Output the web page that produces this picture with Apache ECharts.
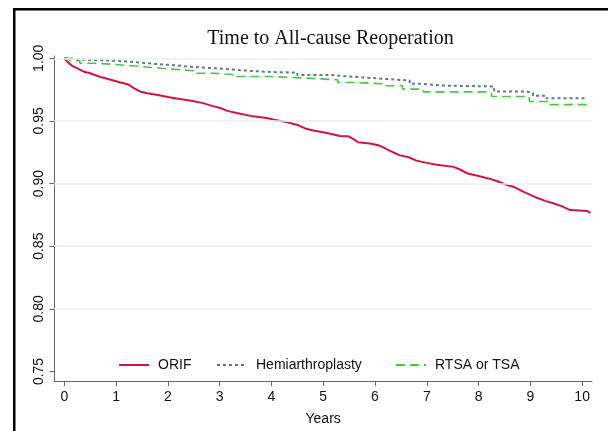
<!DOCTYPE html>
<html>
<head>
<meta charset="utf-8">
<script src="https://cdn.jsdelivr.net/npm/echarts@6/dist/echarts.min.js"></script>
<style>html,body{margin:0;padding:0;background:#fff}#c{width:608px;height:431px}</style>
</head>
<body>
<div id="c"></div>
<script>
// Kaplan-Meier estimates [years, survival]
var orifData = [[0,1.0],[0.05,0.9975],[0.15,0.994],[0.25,0.992],[0.4,0.989],[0.5,0.988],[0.7,0.985],[0.88,0.983],[1.05,0.981],[1.24,0.979],[1.35,0.976],[1.46,0.9735],[1.6,0.972],[1.78,0.9708],[2.0,0.969],[2.23,0.9674],[2.45,0.966],[2.68,0.9642],[2.85,0.962],[3.01,0.9603],[3.15,0.958],[3.33,0.9563],[3.6,0.954],[3.91,0.9523],[4.05,0.951],[4.23,0.9496],[4.49,0.947],[4.65,0.944],[4.81,0.9424],[5.0,0.941],[5.14,0.9398],[5.32,0.938],[5.48,0.9378],[5.6,0.935],[5.67,0.933],[5.9,0.932],[6.07,0.9305],[6.15,0.929],[6.27,0.9265],[6.4,0.924],[6.47,0.9227],[6.65,0.921],[6.8,0.9183],[7.0,0.9165],[7.19,0.915],[7.52,0.9133],[7.65,0.911],[7.79,0.908],[8.0,0.906],[8.19,0.9041],[8.35,0.902],[8.52,0.8992],[8.7,0.897],[8.85,0.8938],[9.0,0.891],[9.11,0.8889],[9.3,0.886],[9.44,0.8843],[9.6,0.882],[9.77,0.8788],[10.1,0.878],[10.16,0.8766]];
var hemiData = [[0,1.0],[0.1,0.999],[0.26,0.9985],[0.6,0.998],[1.0,0.9968],[1.4,0.9955],[1.75,0.9945],[2.1,0.993],[2.5,0.992],[2.9,0.991],[3.25,0.9899],[3.6,0.989],[3.99,0.9886],[4.5,0.9867],[5.14,0.9862],[5.28,0.985],[5.67,0.9835],[6.2,0.9822],[6.67,0.9796],[6.93,0.9782],[7.3,0.9775],[8.25,0.9774],[8.3,0.9735],[8.91,0.9722],[9.05,0.970],[9.31,0.968],[10.1,0.9676]];
var rtsaData = [[0,1.0],[0.1,0.998],[0.3,0.996],[0.6,0.995],[1.0,0.994],[1.3,0.993],[1.59,0.9915],[2.0,0.990],[2.5,0.988],[2.9,0.987],[3.25,0.9854],[4.0,0.984],[4.74,0.9828],[5.28,0.9806],[5.67,0.9796],[6.13,0.978],[6.53,0.9754],[6.93,0.9732],[8.19,0.9722],[8.25,0.9695],[8.98,0.9655],[9.38,0.963],[10.14,0.9623]];
var seriesNames = ['ORIF','Hemiarthroplasty','RTSA or TSA'];
var xTicks = [0,1,2,3,4,5,6,7,8,9,10];
var yTicks = [0.75,0.80,0.85,0.90,0.95,1.00];
var gridValues = [0.80,0.85,0.90,0.95,1.00];
var titleText = 'Time to All-cause Reoperation';
var xAxisName = 'Years';

var chart = echarts.init(document.getElementById('c'), null, {renderer:'canvas'});
var sans = 'Liberation Sans, Arial, Helvetica, sans-serif';
var axisCol = '#666';
var legendBase = {
  top: 358, itemWidth: 30, itemHeight: 12, itemGap: 0, padding: 0,
  itemStyle: {opacity: 0},
  textStyle: {fontFamily: sans, fontSize: 14, color: '#111', padding: [0,0,0,4]}
};
chart.setOption({
  animation: false,
  backgroundColor: '#fff',
  title: {text: titleText, left: 325.5, textAlign: 'center', top: 24,
    textStyle: {fontFamily: 'Liberation Serif, Times New Roman, serif', fontSize: 20, fontWeight: 'normal', color: '#111'}},
  graphic: [
    {type: 'rect', shape: {x: 13, y: 8, width: 595, height: 2.5}, style: {fill: '#000'}},
    {type: 'rect', shape: {x: 13, y: 8, width: 2.5, height: 423}, style: {fill: '#000'}}
  ],
  legend: [
    Object.assign({left: 118, data: [seriesNames[0]]}, legendBase),
    Object.assign({left: 216, data: [seriesNames[1]]}, legendBase),
    Object.assign({left: 395, data: [seriesNames[2]]}, legendBase)
  ],
  grid: {left: 54.3, right: 16, top: 56, bottom: 48.7, containLabel: false},
  xAxis: {
    type: 'value', min: -0.193, max: 10.19,
    name: xAxisName, nameLocation: 'middle', nameGap: 31,
    nameTextStyle: {fontFamily: sans, fontSize: 14, color: '#111'},
    axisLine: {show: true, onZero: false, lineStyle: {color: axisCol, width: 1}},
    axisTick: {show: true, length: 5, customValues: xTicks, lineStyle: {color: axisCol}},
    axisLabel: {customValues: xTicks, fontFamily: sans, fontSize: 14, color: '#111', margin: 9},
    splitLine: {show: false}
  },
  yAxis: {
    type: 'value', min: 0.7424, max: 1.0018,
    axisLine: {show: true, onZero: false, lineStyle: {color: axisCol, width: 1}},
    axisTick: {show: true, length: 5, customValues: yTicks, lineStyle: {color: axisCol}},
    axisLabel: {customValues: yTicks, rotate: 90, fontFamily: sans, fontSize: 14, color: '#111', margin: 8,
      formatter: function(v){ return v.toFixed(2); }},
    splitLine: {show: false}
  },
  series: [
    {type: 'line', name: '_grid', data: [], z: 1, silent: true,
      markLine: {silent: true, symbol: 'none', label: {show: false},
        lineStyle: {color: '#e9f1f1', width: 1.5, type: 'solid'},
        data: gridValues.map(function(v){ return {yAxis: v}; })}},
    {type: 'line', name: seriesNames[0], data: orifData, symbol: 'none', z: 3,
      lineStyle: {color: '#cf1541', width: 2}, itemStyle: {color: '#cf1541'}},
    {type: 'line', name: seriesNames[1], data: hemiData, step: 'end', symbol: 'none', z: 3,
      lineStyle: {color: '#5f7593', width: 2, type: [3,3]}, itemStyle: {color: '#5f7593'}},
    {type: 'line', name: seriesNames[2], data: rtsaData, step: 'end', symbol: 'none', z: 3,
      lineStyle: {color: '#45c93a', width: 1.6, type: [9,5]}, itemStyle: {color: '#45c93a'}}
  ]
});
</script>
</body>
</html>
